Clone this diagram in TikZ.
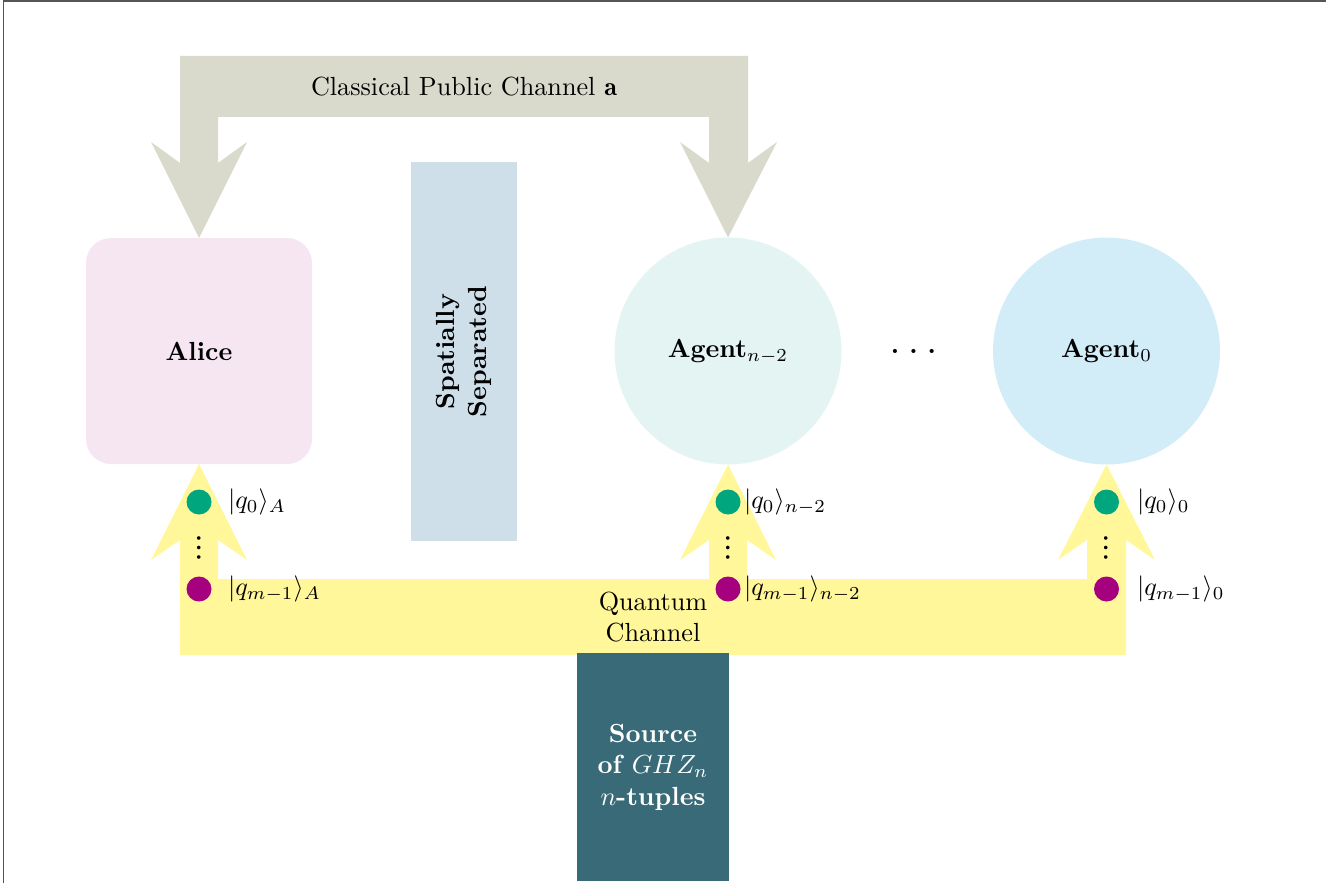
\documentclass[tikz,border=0pt]{standalone}
\usepackage{amsmath}
\usepackage{fontspec}
\newfontfamily\lmmathfont{latinmodern-math.otf}
\usetikzlibrary{calc}
\definecolor{cgray}{RGB}{217,217,204}
\definecolor{alicepink}{RGB}{245,230,241}
\definecolor{sepblue}{RGB}{207,223,233}
\definecolor{agentteal}{RGB}{227,244,242}
\definecolor{agentsky}{RGB}{211,237,248}
\definecolor{qyellow}{RGB}{255,247,153}
\definecolor{qgreen}{RGB}{0,166,126}
\definecolor{qpurple}{RGB}{165,0,126}
\definecolor{srcblue}{RGB}{56,106,119}
\definecolor{framegray}{RGB}{85,85,85}
\newcommand\pxlen{0.3817pt}
\newcommand\vdotsglyph{{\lmmathfont\fontsize{13}{13}\selectfont ⋮}}
\tikzset{
  plain/.style={inner sep=0pt, outer sep=0pt},
  alicebox/.style={plain, rectangle, rounded corners={25*\pxlen}, fill=alicepink,
    minimum width={226*\pxlen}, minimum height={226*\pxlen}, font=\bfseries},
  sepbox/.style={plain, rectangle, fill=sepblue, rotate=90, align=center,
    minimum width={379*\pxlen}, minimum height={106*\pxlen}, font=\bfseries},
  agentc/.style={plain, circle, minimum size={227*\pxlen}},
  srcbox/.style={plain, rectangle, fill=srcblue, text=white, align=center,
    minimum width={152*\pxlen}, minimum height={228*\pxlen}, font=\bfseries},
  qubit/.style={plain, circle, minimum size={25*\pxlen}},
  ketlabel/.style={plain, anchor=west},
  chanlabel/.style={plain, align=center},
}
\begin{document}
\begin{tikzpicture}[x=0.3817pt, y=-0.3817pt]
\useasboundingbox (0,0) rectangle (1335,883);
% frame
\draw[framegray, line width=0.6pt] (3.5,883) -- (3.5,0.8) -- (1326,0.8);

% nodes
\node[alicebox] (alice) at (199,351) {Alice};
\node[sepbox] (sep) at (464,351.5) {Spatially\\Separated};
\node[agentc, fill=agentteal] (agentA) at (728,351) {\textbf{Agent}$_{n-2}$};
\node[plain] (dots) at (913.5,351) {\textbf{.\ .\ .}};
\node[agentc, fill=agentsky] (agentB) at (1106.5,351) {\textbf{Agent}$_0$};

% classical public channel
\fill[cgray] (180,56) -- (748,56) -- (748,163) -- (777,142) -- (agentA.north)
  -- (680,142) -- (709,163) -- (709,117) -- (218,117) -- (218,163) -- (247,142)
  -- (alice.north) -- (151,142) -- (180,163) -- cycle;
\node[chanlabel] (cpc) at (464,87) {Classical Public Channel $\mathbf{a}$};

% quantum channel
\fill[qyellow] (180,655) -- (1126,655) -- (1126,540) -- (1155,560) -- (agentB.south)
  -- (1058,560) -- (1087,540) -- (1087,579) -- (747,579) -- (747,540) -- (776,560)
  -- (agentA.south) -- (680,560) -- (709,540) -- (709,579) -- (218,579) -- (218,540)
  -- (247,560) -- (alice.south) -- (151,560) -- (180,540) -- cycle;
\node[chanlabel] (qc) at (653,617) {Quantum\\Channel};

% source
\node[srcbox] (src) at (653,767) {Source\\of $GHZ_n$\\$n$-tuples};

% qubits Alice
\node[qubit, fill=qgreen] (q0A) at (199,502) {};
\node[qubit, fill=qpurple] (qmA) at (199,589) {};
\node[plain] (vdA) at (199,548) {\vdotsglyph};
\node[ketlabel] (lq0A) at (228,502) {$|q_0\rangle_A$};
\node[ketlabel] (lqmA) at (228,589) {$|q_{m-1}\rangle_A$};

% qubits Agent n-2
\node[qubit, fill=qgreen] (q0B) at (728,502) {};
\node[qubit, fill=qpurple] (qmB) at (728,589) {};
\node[plain] (vdB) at (728,548) {\vdotsglyph};
\node[ketlabel] (lq0B) at (744,502) {$|q_0\rangle_{n-2}$};
\node[ketlabel] (lqmB) at (744,589) {$|q_{m-1}\rangle_{n-2}$};

% qubits Agent 0
\node[qubit, fill=qgreen] (q0C) at (1106.5,502) {};
\node[qubit, fill=qpurple] (qmC) at (1106.5,589) {};
\node[plain] (vdC) at (1106.5,548) {\vdotsglyph};
\node[ketlabel] (lq0C) at (1137,502) {$|q_0\rangle_0$};
\node[ketlabel] (lqmC) at (1137,589) {$|q_{m-1}\rangle_0$};
\end{tikzpicture}
\end{document}
